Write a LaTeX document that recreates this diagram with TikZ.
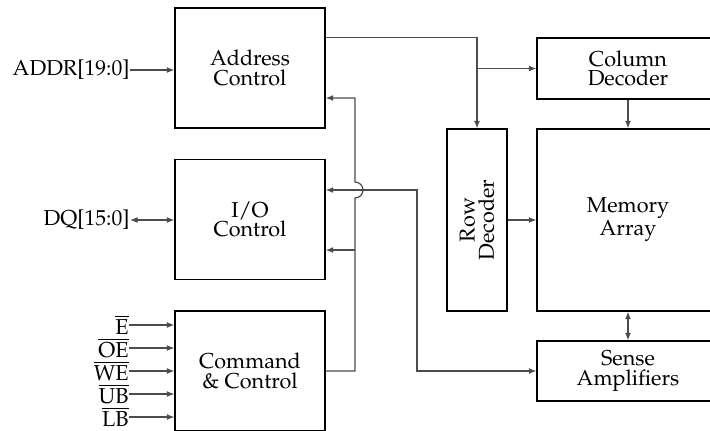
\documentclass[tikz,border=0pt]{standalone}
\usepackage[T1]{fontenc}
\usepackage{mathpazo}
\usetikzlibrary{arrows.meta}
\begin{document}
\begin{tikzpicture}[x=0.5pt,y=-0.5pt,
  txt/.style={font=\fontsize{10.8}{9.7}\selectfont},
  blk/.style={txt,draw=black,line width=0.6pt,inner sep=0pt,align=center},
  lbl/.style={txt,inner sep=0pt,anchor=east},
  wire/.style={draw=black!70,line width=0.6pt},
  >={Latex[length=3.8pt,width=3pt]}]
\clip (0,0) rectangle (710,430);
% blocks
\node[blk,minimum width=75pt,minimum height=60pt] (addr) at (250,68) {Address\\Control};
\node[blk,minimum width=75pt,minimum height=60pt] (io) at (250,219.5) {I/O\\Control};
\node[blk,minimum width=75pt,minimum height=60pt] (cmd) at (250,371) {Command\\\& Control};
\node[blk,minimum width=30pt,minimum height=91pt] (rowdec) at (477,220) {};
\node[txt,rotate=90,align=center] at (rowdec.center) {Row\\Decoder};
\node[blk,minimum width=91pt,minimum height=30.5pt] (coldec) at (628,68.5) {Column\\Decoder};
\node[blk,minimum width=91pt,minimum height=91pt] (mem) at (628,220) {Memory\\Array};
\node[blk,minimum width=91pt,minimum height=30pt] (sense) at (628,371) {Sense\\Amplifiers};
% labels
\node[lbl] (addrl) at (130,70) {ADDR[19:0]};
\node[lbl] (dql) at (130,220) {DQ[15:0]};
\node[lbl] (se) at (129,325) {$\overline{\mbox{E}}$};
\node[lbl] (soe) at (129,348) {$\overline{\mbox{OE}}$};
\node[lbl] (swe) at (129,371) {$\overline{\mbox{WE}}$};
\node[lbl] (sub) at (129,394) {$\overline{\mbox{UB}}$};
\node[lbl] (slb) at (129,417) {$\overline{\mbox{LB}}$};
% coordinates
\coordinate (bA) at (355,98);
\coordinate (bB1) at (355,198);
\coordinate (bC) at (355,250);
\coordinate (bD) at (355,371);
\coordinate (sA) at (417,190);
\coordinate (sB) at (417,371);
% connectors
\draw[wire,->] (addrl.east) -- (addrl.east -| addr.west);
\draw[wire,<->] (dql.east) -- (dql.east -| io.west);
\foreach \s in {se,soe,swe,sub,slb}{\draw[wire,->] (\s.east) -- (\s.east -| cmd.west);}
\draw[wire,->] (addr.east |- coldec.north) -| (rowdec.north);
\draw[wire,->] (rowdec.north |- coldec.west) -- (coldec.west);
\draw[wire,->] (coldec.south) -- (mem.north);
\draw[wire,->] (rowdec.east) -- (rowdec.east -| mem.west);
\draw[wire,<->] (mem.south) -- (sense.north);
\draw[wire,->] (cmd.east) -- (bD) -- (bB1) arc[start angle=-90,end angle=90,radius=4pt] -- (bA) -- (addr.east |- bA);
\draw[wire,->] (bC) -- (io.east |- bC);
\draw[wire,<->] (io.east |- sA) -- (sA) -- (sB) -- (sense.west);
\end{tikzpicture}
\end{document}
